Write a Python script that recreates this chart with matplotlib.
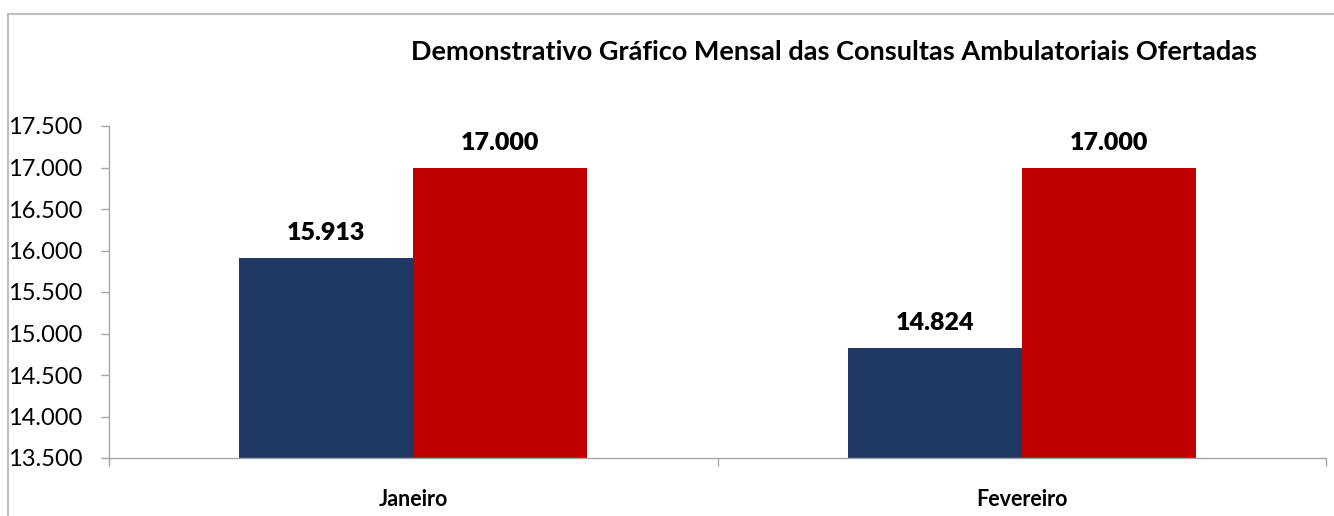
import matplotlib.pyplot as plt
from matplotlib.lines import Line2D
import numpy as np

plt.rcParams['font.family'] = ['Lato', 'DejaVu Sans']

# dados
meses = ['Janeiro', 'Fevereiro']
realizadas = [15913, 14824]
ofertadas = [17000, 17000]
yticks = [13500, 14000, 14500, 15000, 15500, 16000, 16500, 17000, 17500]
titulo = 'Demonstrativo Gráfico Mensal das Consultas Ambulatoriais Ofertadas'

cor_azul = '#203864'
cor_verm = '#C00000'
cinza = '#A6A6A6'


def fmt(v):
    return f'{v:,.0f}'.replace(',', '.')


W, H = 1334, 516
fig = plt.figure(figsize=(W / 100, H / 100), dpi=100)
ax = fig.add_axes([109 / W, 1 - 458 / H, (1326 - 109) / W, (458 - 126) / H])

x = np.arange(len(meses))
larg = 0.286
b1 = ax.bar(x - larg / 2, [v - 13500 for v in realizadas], larg, bottom=13500,
            color=cor_azul)
b2 = ax.bar(x + larg / 2, [v - 13500 for v in ofertadas], larg, bottom=13500,
            color=cor_verm)

for xi, v in zip(x - larg / 2, realizadas):
    ax.annotate(fmt(v), (xi, v), xytext=(0, 10), textcoords='offset points',
                ha='center', va='bottom', fontsize=18, fontweight='heavy')
for xi, v in zip(x + larg / 2, ofertadas):
    ax.annotate(fmt(v), (xi, v), xytext=(0, 10), textcoords='offset points',
                ha='center', va='bottom', fontsize=18, fontweight='heavy')

ax.set_xlim(-0.5, 1.5)
ax.set_ylim(13500, 17500)
ax.set_yticks(yticks)
ax.set_yticklabels([fmt(v) for v in yticks], fontsize=17)
ax.set_xticks(x)
ax.set_xticklabels(meses, fontsize=15.5, fontweight='bold')
ax.set_xticks([-0.5, 0.5, 1.5], minor=True)
ax.tick_params(axis='x', which='major', length=0, pad=22)
ax.tick_params(axis='x', which='minor', length=6, color=cinza, width=1,
               direction='out')
ax.tick_params(axis='y', length=6, color=cinza, width=1, pad=13)

for s in ['top', 'right']:
    ax.spines[s].set_visible(False)
for s in ['left', 'bottom']:
    ax.spines[s].set_color(cinza)
    ax.spines[s].set_linewidth(1)

fig.text(411 / W, 1 - 52 / H, titulo, fontsize=19.5, fontweight='bold',
         ha='left', va='center')

# moldura do gráfico
fig.add_artist(Line2D([8 / W, 1], [1 - 14 / H, 1 - 14 / H], transform=fig.transFigure,
                      color='#BFBFBF', lw=1.5))
fig.add_artist(Line2D([8 / W, 8 / W], [1 - 14 / H, 0], transform=fig.transFigure,
                      color='#BFBFBF', lw=1.5))

plt.savefig('out.png', dpi=100)
